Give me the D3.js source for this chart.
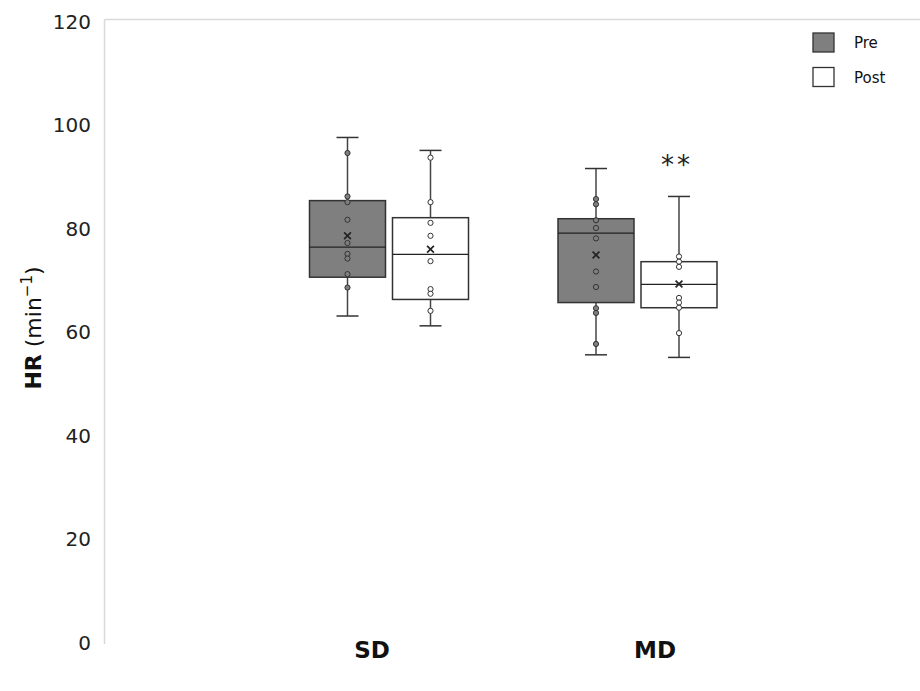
<!DOCTYPE html>
<html>
<head>
<meta charset="utf-8">
<script src="https://cdn.jsdelivr.net/npm/d3@7"></script>
<style>
  html, body { margin: 0; padding: 0; background: #fff; }
  svg { display: block; font-family: "DejaVu Sans", Verdana, sans-serif; }
</style>
</head>
<body>
<svg id="chart" width="920" height="691"></svg>
<script>
// ---------- data ----------
const categories = ["SD", "MD"];
const series = ["Pre", "Post"];
const yTicks = [0, 20, 40, 60, 80, 100, 120];

// summary per box, order: SD-Pre, SD-Post, MD-Pre, MD-Post
const boxCategory = ["SD", "SD", "MD", "MD"];
const boxSeries   = ["Pre", "Post", "Pre", "Post"];
const whiskerMin  = [62.8, 60.9, 55.3, 54.8];
const q1Values    = [70.3, 66.0, 65.4, 64.4];
const medians     = [76.1, 74.7, 78.8, 68.9];
const q3Values    = [85.1, 81.8, 81.6, 73.3];
const whiskerMax  = [97.3, 94.8, 91.3, 85.9];
const means       = [78.3, 75.7, 74.6, 69.0];

const pointsSDPre  = [94.3, 85.9, 84.8, 81.4, 76.9, 74.8, 73.9, 70.9, 68.3];
const pointsSDPost = [93.4, 84.8, 80.8, 78.3, 73.4, 68.0, 67.1, 63.8];
const pointsMDPre  = [85.4, 84.4, 81.3, 79.8, 77.8, 71.4, 68.4, 64.3, 63.4, 57.4];
const pointsMDPost = [74.3, 73.3, 72.3, 66.3, 65.4, 64.4, 59.5];
const boxPoints = [pointsSDPre, pointsSDPost, pointsMDPre, pointsMDPost];

const significance = ["", "", "", "**"];
const seriesFill = { Pre: "#7f7f7f", Post: "#ffffff" };

// ---------- layout ----------
const svg = d3.select("#chart");
const plotLeft = 104.5, plotTop = 19.5, plotRight = 920, plotBottom = 641;

const y = d3.scaleLinear().domain([0, 120]).range([plotBottom, 20]);
const x0 = d3.scaleBand().domain(categories).range([264.75, 761.75]);
const x1 = d3.scaleBand().domain(series).range([-79.5, 79.5]).paddingInner(7 / 83);
const labelX = d3.scalePoint().domain(categories).range([372, 655]);

// frame: left axis + top border
svg.append("line").attr("x1", plotLeft).attr("x2", plotLeft)
  .attr("y1", plotTop).attr("y2", 644).attr("stroke", "#d9d9d9").attr("stroke-width", 1.5);
svg.append("line").attr("x1", plotLeft).attr("x2", plotRight)
  .attr("y1", plotTop).attr("y2", plotTop).attr("stroke", "#d9d9d9").attr("stroke-width", 1.5);

// y axis labels
const yAxis = d3.axisLeft(y).tickValues(yTicks).tickSize(0).tickPadding(0);
const gy = svg.append("g").attr("transform", "translate(91,2)").call(yAxis);
gy.select(".domain").remove();
gy.selectAll("text").attr("font-size", 20).attr("fill", "#222")
  .attr("font-family", "DejaVu Sans, Verdana, sans-serif");

// y title
const yt = svg.append("text")
  .attr("transform", "translate(41,328) rotate(-90)")
  .attr("text-anchor", "middle").attr("font-size", 22).attr("fill", "#111");
yt.append("tspan").attr("font-weight", "bold").text("HR");
yt.append("tspan").text(" (min");
yt.append("tspan").attr("font-size", 15).attr("dy", -9).text("−1");
yt.append("tspan").attr("dy", 9).text(")");

// category labels
svg.selectAll(".cat").data(categories).enter().append("text")
  .attr("x", d => labelX(d)).attr("y", 658)
  .attr("text-anchor", "middle").attr("font-size", 23).attr("font-weight", "bold")
  .attr("fill", "#111").text(d => d);

// boxes
const boxes = boxCategory.map((c, i) => ({
  cat: c, ser: boxSeries[i], min: whiskerMin[i], q1: q1Values[i], med: medians[i],
  q3: q3Values[i], max: whiskerMax[i], mean: means[i], pts: boxPoints[i], sig: significance[i]
}));

const g = svg.append("g");
boxes.forEach(b => {
  const cx = x0(b.cat) + x0.bandwidth() / 2 + x1(b.ser) + x1.bandwidth() / 2;
  const left = x0(b.cat) + x0.bandwidth() / 2 + x1(b.ser);
  const w = x1.bandwidth();
  const capW = 22;
  const gb = g.append("g");
  // whiskers
  gb.append("line").attr("x1", cx).attr("x2", cx).attr("y1", y(b.max)).attr("y2", y(b.q3))
    .attr("stroke", "#444").attr("stroke-width", 1.5);
  gb.append("line").attr("x1", cx).attr("x2", cx).attr("y1", y(b.q1)).attr("y2", y(b.min))
    .attr("stroke", "#444").attr("stroke-width", 1.5);
  gb.append("line").attr("x1", cx - capW / 2).attr("x2", cx + capW / 2).attr("y1", y(b.max)).attr("y2", y(b.max))
    .attr("stroke", "#333").attr("stroke-width", 1.5);
  gb.append("line").attr("x1", cx - capW / 2).attr("x2", cx + capW / 2).attr("y1", y(b.min)).attr("y2", y(b.min))
    .attr("stroke", "#333").attr("stroke-width", 1.5);
  // box
  gb.append("rect").attr("x", left).attr("y", y(b.q3)).attr("width", w)
    .attr("height", y(b.q1) - y(b.q3)).attr("fill", seriesFill[b.ser])
    .attr("stroke", "#333").attr("stroke-width", 1.5);
  // median
  gb.append("line").attr("x1", left).attr("x2", left + w).attr("y1", y(b.med)).attr("y2", y(b.med))
    .attr("stroke", "#222").attr("stroke-width", 1.3);
  // points
  gb.selectAll("circle").data(b.pts).enter().append("circle")
    .attr("cx", cx).attr("cy", d => y(d)).attr("r", 2.6)
    .attr("fill", seriesFill[b.ser]).attr("stroke", "#333").attr("stroke-width", 1);
  // mean marker (x)
  const m = 3.4, my = y(b.mean);
  gb.append("path")
    .attr("d", `M${cx - m},${my - m}L${cx + m},${my + m}M${cx - m},${my + m}L${cx + m},${my - m}`)
    .attr("stroke", "#222").attr("stroke-width", 1.7).attr("fill", "none");
  // significance
  if (b.sig) {
    gb.append("text").attr("x", cx - 2).attr("y", y(b.max) - 22)
      .attr("text-anchor", "middle").attr("font-size", 26).attr("fill", "#222")
      .attr("letter-spacing", 3).text(b.sig);
  }
});

// legend
const leg = svg.append("g");
series.forEach((s, i) => {
  const ly = 33 + i * 34.5;
  leg.append("rect").attr("x", 813).attr("y", ly).attr("width", 21).attr("height", 19)
    .attr("fill", seriesFill[s]).attr("stroke", "#333").attr("stroke-width", 1.3);
  leg.append("text").attr("x", 854).attr("y", ly + 15).attr("font-size", 15)
    .attr("fill", "#111").text(s);
});
</script>
</body>
</html>
